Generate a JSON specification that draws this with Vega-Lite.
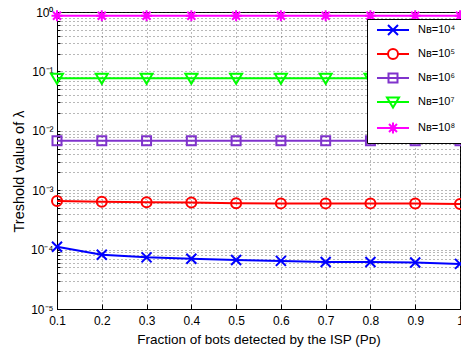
{
  "$schema": "https://vega.github.io/schema/vega-lite/v6.json",
  "width": 403,
  "height": 297,
  "autosize": {"type": "none"},
  "padding": {"left": 57, "top": 12, "right": 1, "bottom": 44},
  "background": "white",
  "config": {
    "font": "Liberation Sans",
    "view": {"stroke": "black", "strokeWidth": 1},
    "axis": {
      "labelColor": "black",
      "titleColor": "black",
      "titleFontWeight": "normal",
      "domainColor": "black",
      "tickColor": "black",
      "gridColor": "#333333",
      "gridDash": [1, 3],
      "gridOpacity": 0.7
    }
  },
  "data": {
    "values": [
      {"pd": 0.1, "nb": "Nʙ=10⁴", "v": 0.000112},
      {"pd": 0.2, "nb": "Nʙ=10⁴", "v": 0.000082},
      {"pd": 0.3, "nb": "Nʙ=10⁴", "v": 0.000074},
      {"pd": 0.4, "nb": "Nʙ=10⁴", "v": 0.000070},
      {"pd": 0.5, "nb": "Nʙ=10⁴", "v": 0.000067},
      {"pd": 0.6, "nb": "Nʙ=10⁴", "v": 0.0000645},
      {"pd": 0.7, "nb": "Nʙ=10⁴", "v": 0.000062},
      {"pd": 0.8, "nb": "Nʙ=10⁴", "v": 0.000062},
      {"pd": 0.9, "nb": "Nʙ=10⁴", "v": 0.0000605},
      {"pd": 1.0, "nb": "Nʙ=10⁴", "v": 0.0000575},
      {"pd": 0.1, "nb": "Nʙ=10⁵", "v": 0.00066},
      {"pd": 0.2, "nb": "Nʙ=10⁵", "v": 0.00064},
      {"pd": 0.3, "nb": "Nʙ=10⁵", "v": 0.000625},
      {"pd": 0.4, "nb": "Nʙ=10⁵", "v": 0.00062},
      {"pd": 0.5, "nb": "Nʙ=10⁵", "v": 0.000605},
      {"pd": 0.6, "nb": "Nʙ=10⁵", "v": 0.0006},
      {"pd": 0.7, "nb": "Nʙ=10⁵", "v": 0.0006},
      {"pd": 0.8, "nb": "Nʙ=10⁵", "v": 0.0006},
      {"pd": 0.9, "nb": "Nʙ=10⁵", "v": 0.000595},
      {"pd": 1.0, "nb": "Nʙ=10⁵", "v": 0.000585},
      {"pd": 0.1, "nb": "Nʙ=10⁶", "v": 0.0068},
      {"pd": 0.2, "nb": "Nʙ=10⁶", "v": 0.0068},
      {"pd": 0.3, "nb": "Nʙ=10⁶", "v": 0.0068},
      {"pd": 0.4, "nb": "Nʙ=10⁶", "v": 0.0068},
      {"pd": 0.5, "nb": "Nʙ=10⁶", "v": 0.0068},
      {"pd": 0.6, "nb": "Nʙ=10⁶", "v": 0.0068},
      {"pd": 0.7, "nb": "Nʙ=10⁶", "v": 0.0068},
      {"pd": 0.8, "nb": "Nʙ=10⁶", "v": 0.0068},
      {"pd": 0.9, "nb": "Nʙ=10⁶", "v": 0.0068},
      {"pd": 1.0, "nb": "Nʙ=10⁶", "v": 0.0068},
      {"pd": 0.1, "nb": "Nʙ=10⁷", "v": 0.0765},
      {"pd": 0.2, "nb": "Nʙ=10⁷", "v": 0.0765},
      {"pd": 0.3, "nb": "Nʙ=10⁷", "v": 0.0765},
      {"pd": 0.4, "nb": "Nʙ=10⁷", "v": 0.0765},
      {"pd": 0.5, "nb": "Nʙ=10⁷", "v": 0.0765},
      {"pd": 0.6, "nb": "Nʙ=10⁷", "v": 0.0765},
      {"pd": 0.7, "nb": "Nʙ=10⁷", "v": 0.0765},
      {"pd": 0.8, "nb": "Nʙ=10⁷", "v": 0.0765},
      {"pd": 0.9, "nb": "Nʙ=10⁷", "v": 0.0765},
      {"pd": 1.0, "nb": "Nʙ=10⁷", "v": 0.0765},
      {"pd": 0.1, "nb": "Nʙ=10⁸", "v": 0.867},
      {"pd": 0.2, "nb": "Nʙ=10⁸", "v": 0.867},
      {"pd": 0.3, "nb": "Nʙ=10⁸", "v": 0.867},
      {"pd": 0.4, "nb": "Nʙ=10⁸", "v": 0.867},
      {"pd": 0.5, "nb": "Nʙ=10⁸", "v": 0.867},
      {"pd": 0.6, "nb": "Nʙ=10⁸", "v": 0.867},
      {"pd": 0.7, "nb": "Nʙ=10⁸", "v": 0.867},
      {"pd": 0.8, "nb": "Nʙ=10⁸", "v": 0.867},
      {"pd": 0.9, "nb": "Nʙ=10⁸", "v": 0.867},
      {"pd": 1.0, "nb": "Nʙ=10⁸", "v": 0.867}
    ]
  },
  "encoding": {
    "x": {
      "field": "pd", "type": "quantitative",
      "scale": {"domain": [0.1, 1], "nice": false, "zero": false},
      "axis": {
        "title": "Fraction of bots detected by the ISP (Pᴅ)",
        "values": [0.1, 0.2, 0.3, 0.4, 0.5, 0.6, 0.7, 0.8, 0.9, 1],
        "labelExpr": "datum.value == 1 ? '1' : format(datum.value, '.1f')",
        "labelFontSize": 12,
        "titleFontSize": 13.5,
        "tickSize": -5,
        "labelPadding": 11,
        "titlePadding": 6,
        "labelFlush": false
      }
    },
    "y": {
      "field": "v", "type": "quantitative",
      "scale": {"type": "log", "domain": [0.00001, 1], "nice": false},
      "axis": {
        "title": "Treshold value of λ",
        "values": [0.00001, 0.00002, 0.00003, 0.00004, 0.00005, 0.00006, 0.00007, 0.00008, 0.00009,
                   0.0001, 0.0002, 0.0003, 0.0004, 0.0005, 0.0006, 0.0007, 0.0008, 0.0009,
                   0.001, 0.002, 0.003, 0.004, 0.005, 0.006, 0.007, 0.008, 0.009,
                   0.01, 0.02, 0.03, 0.04, 0.05, 0.06, 0.07, 0.08, 0.09,
                   0.1, 0.2, 0.3, 0.4, 0.5, 0.6, 0.7, 0.8, 0.9, 1],
        "labelExpr": "datum.value == 1 ? '10⁰' : datum.value == 0.1 ? '10⁻¹' : datum.value == 0.01 ? '10⁻²' : datum.value == 0.001 ? '10⁻³' : datum.value == 0.0001 ? '10⁻⁴' : datum.value == 0.00001 ? '10⁻⁵' : ''",
        "labelFontSize": 12,
        "titleFontSize": 14.5,
        "tickSize": -3,
        "labelPadding": 7,
        "titlePadding": 4,
        "titleY": 159
      }
    }
  },
  "layer": [
    {
      "mark": {"type": "line", "strokeWidth": 2, "clip": false},
      "encoding": {
        "color": {
          "field": "nb", "type": "nominal", "legend": null,
          "scale": {
            "domain": ["Nʙ=10⁴", "Nʙ=10⁵", "Nʙ=10⁶", "Nʙ=10⁷", "Nʙ=10⁸"],
            "range": ["#0000ff", "#ff0000", "#8033cc", "#00ff00", "#ff00ff"]
          }
        }
      }
    },
    {
      "mark": {"type": "point", "filled": false, "strokeWidth": 2, "size": 100, "opacity": 1},
      "encoding": {
        "color": {
          "field": "nb", "type": "nominal", "legend": null,
          "scale": {
            "domain": ["Nʙ=10⁴", "Nʙ=10⁵", "Nʙ=10⁶", "Nʙ=10⁷", "Nʙ=10⁸"],
            "range": ["#0000ff", "#ff0000", "#8033cc", "#00ff00", "#ff00ff"]
          }
        },
        "shape": {
          "field": "nb", "type": "nominal", "legend": null,
          "scale": {
            "domain": ["Nʙ=10⁴", "Nʙ=10⁵", "Nʙ=10⁶", "Nʙ=10⁷", "Nʙ=10⁸"],
            "range": [
              "M-1,-1L1,1M-1,1L1,-1",
              "M1,0A1,1,0,1,1,-1,0A1,1,0,1,1,1,0Z",
              "M-0.9,-0.9H0.9V0.9H-0.9Z",
              "M-1.2,-0.9L1.2,-0.9L0,1.1Z",
              "M0,-1.1L0,1.1M-1.1,0L1.1,0M-0.8,-0.8L0.8,0.8M-0.8,0.8L0.8,-0.8"
            ]
          }
        }
      }
    },
    {
      "transform": [{"filter": "datum.v < 0"}],
      "mark": {"type": "point", "filled": false, "strokeWidth": 2, "size": 100, "opacity": 1},
      "encoding": {
        "color": {
          "field": "nb", "type": "nominal",
          "scale": {
            "domain": ["Nʙ=10⁴", "Nʙ=10⁵", "Nʙ=10⁶", "Nʙ=10⁷", "Nʙ=10⁸"],
            "range": ["#0000ff", "#ff0000", "#8033cc", "#00ff00", "#ff00ff"]
          },
          "legend": {
            "title": null,
            "orient": "none",
            "legendX": 310,
            "legendY": 7,
            "fillColor": "white",
            "strokeColor": "black",
            "padding": 5,
            "symbolSize": 100,
            "symbolStrokeWidth": 2,
            "symbolOffset": 15,
            "labelOffset": 19,
            "labelFontSize": 11,
            "labelColor": "black",
            "rowPadding": 6
          }
        },
        "shape": {
          "field": "nb", "type": "nominal",
          "scale": {
            "domain": ["Nʙ=10⁴", "Nʙ=10⁵", "Nʙ=10⁶", "Nʙ=10⁷", "Nʙ=10⁸"],
            "range": [
              "M-3.2,0L3.2,0M-1,-1L1,1M-1,1L1,-1",
              "M-3.2,0L-1,0M1,0L3.2,0M1,0A1,1,0,1,1,-1,0A1,1,0,1,1,1,0Z",
              "M-3.2,0L3.2,0M-0.9,-0.9H0.9V0.9H-0.9Z",
              "M-3.2,0L3.2,0M-1.2,-0.9L1.2,-0.9L0,1.1Z",
              "M-3.2,0L3.2,0M0,-1.1L0,1.1M-1.1,0L1.1,0M-0.8,-0.8L0.8,0.8M-0.8,0.8L0.8,-0.8"
            ]
          },
          "legend": {
            "title": null,
            "orient": "none",
            "legendX": 310,
            "legendY": 7,
            "fillColor": "white",
            "strokeColor": "black",
            "padding": 5,
            "symbolSize": 100,
            "symbolStrokeWidth": 2,
            "symbolOffset": 15,
            "labelOffset": 19,
            "labelFontSize": 11,
            "labelColor": "black",
            "rowPadding": 6
          }
        }
      }
    }
  ],
  "resolve": {
    "scale": {"color": "independent", "shape": "independent"},
    "legend": {"color": "independent", "shape": "independent"}
  }
}
